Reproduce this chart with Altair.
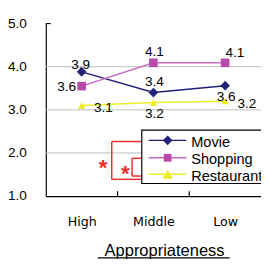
import altair as alt
import pandas as pd

# ---- data ----
levels = ["High", "Middle", "Low"]
series = ["Movie", "Shopping", "Restaurant"]
movie = [3.88, 3.40, 3.56]
shopping = [3.55, 4.09, 4.09]
restaurant = [3.10, 3.17, 3.20]
labels = {
    "Movie": ["3.9", "3.4", "3.6"],
    "Shopping": ["3.6", "4.1", "4.1"],
    "Restaurant": ["3.1", "3.2", "3.2"],
}
placement = {
    "Movie": ["above_near", "above", "below"],
    "Shopping": ["left", "above", "above_right"],
    "Restaurant": ["right", "below", "right"],
}
y_ticks = [1, 2, 3, 4, 5]
grid_values = [2, 3, 4]
boundaries = [1, 2]

# ---- styles ----
line_colors = ["#1f1f78", "#c46cc0", "#eded2a"]
mark_colors = ["#22227a", "#b94aab", "#eded20"]
shapes = ["diamond", "square", "triangle-up"]
sizes = [100, 56, 100]
legend_sizes = [100, 64, 110]
red = "#ee2c2c"
NUM_FONT = "Liberation Sans"

values = {"Movie": movie, "Shopping": shopping, "Restaurant": restaurant}
rows = []
for s in series:
    for i, lv in enumerate(levels):
        rows.append({"series": s, "level": lv, "xi": i + 0.5,
                     "value": values[s][i], "label": labels[s][i],
                     "place": placement[s][i]})
df = pd.DataFrame(rows)

W, H = 222, 178
xscale = alt.Scale(domain=[0, 3], nice=False, zero=False)
yscale = alt.Scale(domain=[1, 5], nice=False, zero=False)
lvl_js = "[" + ",".join("'%s'" % l for l in levels) + "]"

x_axis = alt.Axis(values=[0.5, 1.5, 2.5], labelExpr=lvl_js + "[floor(datum.value)]",
                  ticks=False, tickSize=0, grid=False, domain=True,
                  domainColor="black", domainWidth=1.2,
                  labelFont="DejaVu Sans", labelFontSize=13, labelColor="black",
                  labelBaseline="alphabetic", labelPadding=30,
                  title="Appropriateness", titleFont=NUM_FONT, titleFontSize=17,
                  titleFontWeight="normal", titleColor="black", titleX=122, titleY=61,
                  titleBaseline="alphabetic", titleAlign="center", titleAnchor="start")
y_axis = alt.Axis(values=y_ticks, format=".1f", ticks=False, tickSize=0, grid=False,
                  domain=True, domainColor="black", domainWidth=1.2, labelFont=NUM_FONT,
                  labelFontSize=14, labelColor="black", labelPadding=20, title=None)

def X(field):
    return alt.X(field, scale=xscale, axis=x_axis)

def Y(field):
    return alt.Y(field, scale=yscale, axis=y_axis)

base = alt.Chart(df)

grid = alt.Chart(pd.DataFrame({"g": grid_values})).mark_rule(
    color="#bdbdbd", strokeWidth=1).encode(y=Y("g:Q"))

lines = base.mark_line(strokeWidth=1.5).encode(
    x=X("xi:Q"), y=Y("value:Q"),
    color=alt.Color("series:N", scale=alt.Scale(domain=series, range=line_colors), legend=None),
)

points = base.mark_point(filled=True, opacity=1).encode(
    x=X("xi:Q"), y=Y("value:Q"),
    fill=alt.Fill("series:N", scale=alt.Scale(domain=series, range=mark_colors), legend=None),
    shape=alt.Shape("series:N", scale=alt.Scale(domain=series, range=shapes), legend=None),
    size=alt.Size("series:N", scale=alt.Scale(domain=series, range=sizes), legend=None),
)

offsets = {
    "above": (1, -11), "above_near": (-1, -7), "below": (1, 12),
    "left": (-15.5, 1), "above_right": (10, -10), "right": (22.5, 2.5),
}
text_layers = []
for key, (dx, dy) in offsets.items():
    text_layers.append(
        base.transform_filter(alt.datum.place == key).mark_text(
            font=NUM_FONT, fontSize=14, color="black", align="center",
            baseline="middle", dx=dx, dy=dy).encode(
            x=X("xi:Q"), y=Y("value:Q"), text="label:N"))

one = alt.Data(values=[{}])

def rule(x1, x2, y1, y2, color="black", w=1.0):
    return alt.Chart(one).mark_rule(color=color, strokeWidth=w).encode(
        x=alt.value(x1), x2=alt.value(x2), y=alt.value(y1), y2=alt.value(y2))

# boundary ticks on the x axis and the top tick on the y axis
bticks = alt.Chart(pd.DataFrame({"b": boundaries})).mark_rule(
    color="black", strokeWidth=1.2).encode(
    x=X("b:Q"), y=alt.value(H), y2=alt.value(H - 5))
ytop = alt.Chart(pd.DataFrame({"t": [max(y_ticks)]})).mark_rule(
    color="black", strokeWidth=1.2).encode(
    y=Y("t:Q"), x=alt.value(0), x2=alt.value(5))

# significance brackets
brackets = [
    rule(68, 99, 121.7, 121.7, red, 1.5), rule(68, 68, 121.7, 160.7, red, 1.5),
    rule(68, 99, 160.7, 160.7, red, 1.5),
    rule(89, 99, 139, 139, red, 1.5), rule(89, 89, 139, 157.3, red, 1.5),
    rule(89, 99, 157.3, 157.3, red, 1.5),
]
stars = [
    alt.Chart(one).mark_text(text="*", font=NUM_FONT, fontSize=23, fontWeight="bold",
                             color=red, align="center", baseline="alphabetic").encode(
        x=alt.value(59), y=alt.value(156)),
    alt.Chart(one).mark_text(text="*", font=NUM_FONT, fontSize=23, fontWeight="bold",
                             color=red, align="center", baseline="alphabetic").encode(
        x=alt.value(82), y=alt.value(162)),
]

# legend box
legend_box = alt.Chart(one).mark_rect(fill="white", stroke="black", strokeWidth=1.2).encode(
    x=alt.value(99), x2=alt.value(240), y=alt.value(110), y2=alt.value(165))
legend_rows = [120.5, 138.5, 155.5]
legend_layers = []
for i, s in enumerate(series):
    yy = legend_rows[i]
    legend_layers.append(rule(106, 145, yy, yy, line_colors[i], 1.5))
    legend_layers.append(alt.Chart(one).mark_point(
        filled=True, opacity=1, shape=shapes[i], size=legend_sizes[i],
        color=mark_colors[i]).encode(x=alt.value(125.7), y=alt.value(yy)))
    legend_layers.append(alt.Chart(one).mark_text(
        text=s, font=NUM_FONT, fontSize=15, color="black", align="left",
        baseline="middle").encode(x=alt.value(150), y=alt.value(yy + 1.5)))

underline = rule(53.7, 189.7, 241.7, 241.7, "black", 1.2)

chart = alt.layer(
    grid, lines, points, *text_layers, bticks, ytop, *brackets, *stars,
    legend_box, *legend_layers, underline,
).properties(
    width=W, height=H,
    padding={"left": 39, "top": 12, "right": 0, "bottom": 66},
    autosize=alt.AutoSizeParams(type="none"),
).configure_view(stroke=None)

chart.save("out.html", embed_options={"renderer": "svg", "actions": False})
